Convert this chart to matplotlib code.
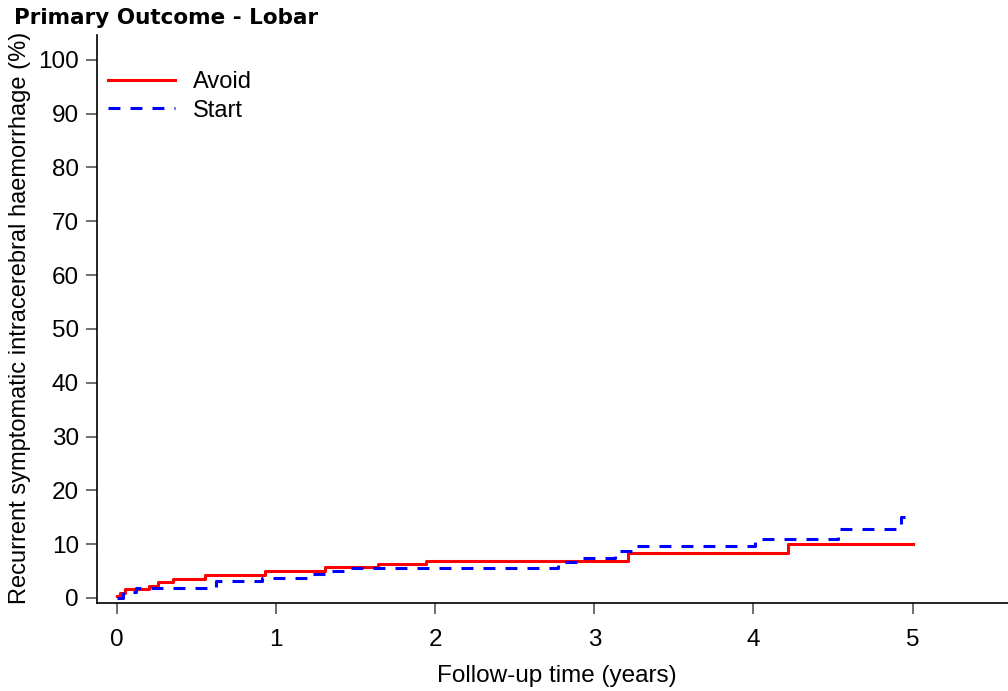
import numpy as np
import matplotlib as mpl
mpl.use("Agg")
import matplotlib.pyplot as plt

plt.rcParams['font.family'] = ['Liberation Sans', 'DejaVu Sans']

# DATA (cumulative incidence in %)
avoid_t = [0, 0.02, 0.05, 0.20, 0.26, 0.35, 0.55, 0.93, 1.31, 1.64, 1.94, 3.21, 4.22, 5.0]
avoid_y = [0.4, 1.0, 1.7, 2.3, 3.0, 3.6, 4.3, 5.0, 5.7, 6.3, 6.9, 8.3, 10.0, 10.0]

start_t = [0, 0.04, 0.12, 0.62, 0.91, 1.20, 1.32, 1.45, 2.77, 2.91, 3.13, 3.26, 4.01, 4.53, 4.93, 4.95]
start_y = [0, 1.2, 1.8, 3.1, 3.7, 4.4, 5.0, 5.6, 6.6, 7.4, 8.7, 9.6, 10.9, 12.8, 15.1, 15.1]

xticks = [0, 1, 2, 3, 4, 5]
yticks = list(range(0, 101, 10))

# PLOT
fig = plt.figure(figsize=(10.08, 6.91), dpi=100)
ax = fig.add_axes([0.0962, 0.1274, 0.9038, 0.8219])

ax.plot(avoid_t, avoid_y, drawstyle='steps-post', color='#ff0000', lw=2.2, label='Avoid')
ax.plot(start_t, start_y, drawstyle='steps-post', color='#0000ff', lw=2.2,
        dashes=(3.9, 3.3), label='Start')

ax.set_xlim(-0.126, 5.6)
ax.set_ylim(-0.93, 104.6)
ax.set_xticks(xticks)
ax.set_yticks(yticks)
ax.tick_params(axis='both', labelsize=17.5, length=8, width=1.2, color='#555555', pad=5)
ax.tick_params(axis='x', pad=11)

for s in ['top', 'right']:
    ax.spines[s].set_visible(False)
for s in ['left', 'bottom']:
    ax.spines[s].set_linewidth(1.2)

ax.set_xlabel("Follow-up time (years)", fontsize=17.5)
ax.xaxis.set_label_coords(557 / 1008, 1 - 676 / 691, transform=fig.transFigure)
ax.xaxis.label.set_va('center')
ax.set_ylabel("Recurrent symptomatic intracerebral haemorrhage (%)", fontsize=17)
ax.yaxis.set_label_coords(20 / 1008, 1 - 318 / 691, transform=fig.transFigure)
ax.yaxis.label.set_va('center')

fig.text(0.014, 1 - 18 / 691, "Primary Outcome - Lobar", fontsize=15.5, fontweight='bold',
         family='DejaVu Sans', va='center')

leg = ax.legend(loc='upper left', bbox_to_anchor=(108 / 1008, 1 - 71 / 691),
                bbox_transform=fig.transFigure, frameon=False, fontsize=17,
                borderpad=0, borderaxespad=0, handlelength=2.85,
                handletextpad=0.75, labelspacing=0.28)

fig.savefig("out.png", dpi=100)
